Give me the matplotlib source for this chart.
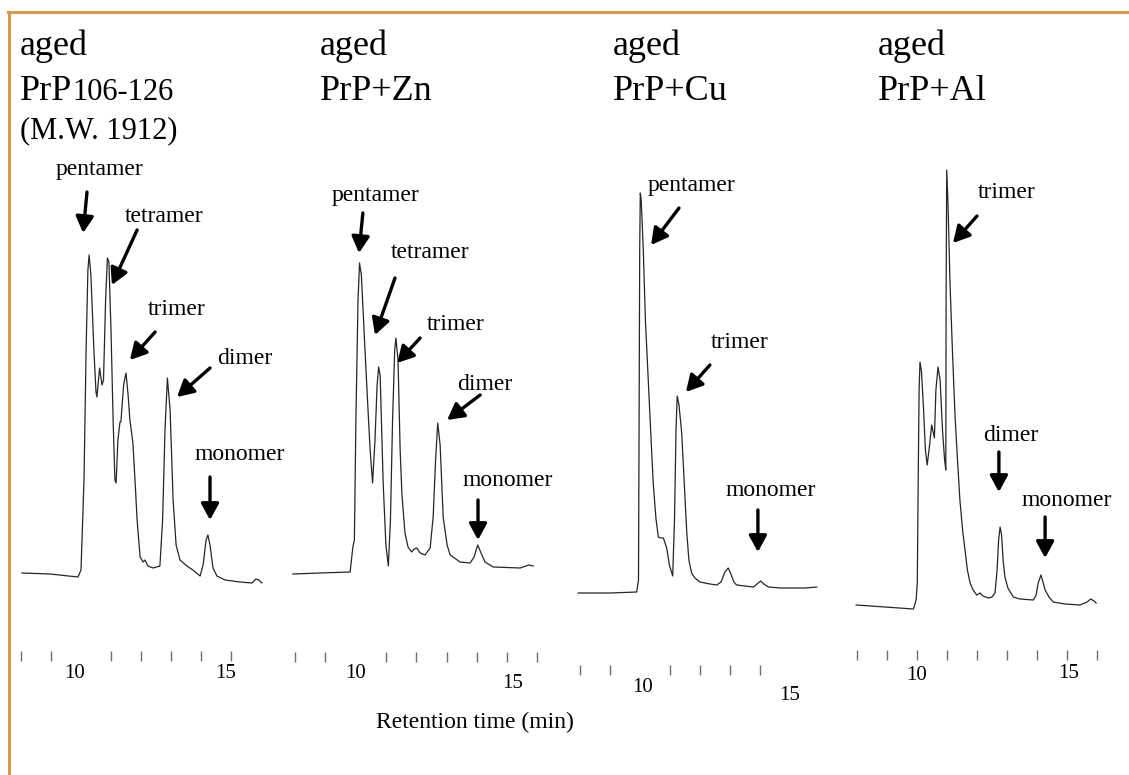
import matplotlib
matplotlib.use("Agg")
import matplotlib.pyplot as plt
from matplotlib.lines import Line2D
from matplotlib import transforms

plt.rcParams['font.family'] = ['Liberation Serif', 'DejaVu Serif']

W, H = 1129, 775

# --- traces: retention time (min) vs absorbance (a.u.) ---
PRP_T = [8.03, 8.97, 9.90, 10.00, 10.10, 10.17, 10.23, 10.27, 10.33, 10.43, 10.50, 10.53,
         10.62, 10.70, 10.75, 10.82, 10.88, 10.93, 11.00, 11.07, 11.13, 11.17, 11.23, 11.30,
         11.33, 11.42, 11.50, 11.57, 11.63, 11.73, 11.80, 11.87, 11.97, 12.07, 12.13, 12.23,
         12.40, 12.63, 12.72, 12.80, 12.88, 12.97, 13.07, 13.17, 13.30, 13.53, 13.73, 13.97,
         14.07, 14.17, 14.23, 14.30, 14.40, 14.53, 14.80, 15.30, 15.70, 15.83, 15.93, 16.03]
PRP_S = [0.02, 0.01, -0.02, 0.05, 0.95, 2.25, 3.05, 3.20, 3.00, 2.25, 1.83, 1.78,
         2.07, 1.90, 1.95, 2.75, 3.17, 3.13, 2.45, 1.55, 0.95, 0.92, 1.35, 1.53,
         1.53, 1.90, 2.02, 1.80, 1.55, 1.32, 0.95, 0.55, 0.18, 0.13, 0.15, 0.09,
         0.07, 0.09, 0.55, 1.45, 1.97, 1.65, 0.75, 0.30, 0.15, 0.09, 0.05, -0.01,
         0.10, 0.35, 0.40, 0.30, 0.07, -0.01, -0.05, -0.07, -0.08, -0.04, -0.05, -0.08]

ZN_T = [7.93, 8.83, 9.82, 9.91, 9.96, 10.01, 10.08, 10.13, 10.19, 10.31, 10.41, 10.48,
        10.56, 10.64, 10.71, 10.76, 10.81, 10.91, 11.00, 11.08, 11.15, 11.22, 11.29, 11.33,
        11.40, 11.47, 11.53, 11.63, 11.73, 11.85, 11.93, 12.02, 12.13, 12.29, 12.46, 12.56,
        12.64, 12.71, 12.79, 12.89, 13.02, 13.12, 13.45, 13.78, 13.91, 14.03, 14.14, 14.27,
        14.54, 15.43, 15.62, 15.72, 15.86]
ZN_S = [-0.02, -0.01, 0.00, 0.25, 0.32, 1.52, 2.72, 3.09, 2.97, 2.22, 1.62, 1.22,
        0.89, 1.32, 1.87, 2.05, 1.97, 0.89, 0.27, 0.06, 0.52, 1.52, 2.22, 2.34,
        2.12, 1.22, 0.77, 0.39, 0.25, 0.20, 0.23, 0.24, 0.19, 0.17, 0.24, 0.55,
        1.12, 1.49, 1.27, 0.55, 0.27, 0.17, 0.10, 0.09, 0.15, 0.27, 0.19, 0.10,
        0.05, 0.04, 0.06, 0.07, 0.06]

CU_T = [7.94, 9.00, 9.89, 9.95, 9.97, 9.99, 10.01, 10.04, 10.11, 10.18, 10.28, 10.37,
        10.44, 10.53, 10.61, 10.70, 10.78, 10.89, 10.98, 11.09, 11.15, 11.20, 11.24, 11.30,
        11.39, 11.47, 11.56, 11.63, 11.72, 11.83, 12.00, 12.33, 12.56, 12.70, 12.83, 12.94,
        13.03, 13.13, 13.22, 13.50, 13.78, 13.90, 14.02, 14.13, 14.28, 14.67, 15.11, 15.50,
        15.89]
CU_S = [-0.01, -0.01, 0.00, 0.12, 1.72, 3.42, 3.99, 3.92, 3.42, 2.72, 2.09, 1.52,
        1.09, 0.74, 0.55, 0.54, 0.54, 0.44, 0.27, 0.16, 0.72, 1.62, 1.96, 1.87,
        1.59, 1.12, 0.59, 0.32, 0.19, 0.14, 0.10, 0.08, 0.07, 0.10, 0.20, 0.24,
        0.18, 0.10, 0.07, 0.06, 0.05, 0.08, 0.11, 0.08, 0.05, 0.04, 0.04, 0.04,
        0.05]

AL_T = [7.97, 8.93, 9.88, 9.97, 10.01, 10.04, 10.07, 10.10, 10.15, 10.22, 10.28, 10.34,
        10.42, 10.49, 10.58, 10.63, 10.70, 10.77, 10.85, 10.92, 10.96, 10.97, 10.99, 11.03,
        11.10, 11.18, 11.27, 11.35, 11.43, 11.52, 11.60, 11.68, 11.77, 11.87, 11.99, 12.10,
        12.20, 12.38, 12.50, 12.60, 12.67, 12.72, 12.77, 12.82, 12.87, 12.93, 13.03, 13.21,
        13.43, 13.88, 13.97, 14.04, 14.13, 14.20, 14.27, 14.40, 14.54, 14.93, 15.43, 15.67,
        15.79, 15.90, 15.97]
AL_S = [0.01, -0.01, -0.03, 0.06, 0.23, 1.26, 2.16, 2.44, 2.34, 1.96, 1.56, 1.41,
        1.61, 1.81, 1.68, 2.16, 2.39, 2.26, 1.76, 1.46, 1.36, 3.06, 4.36, 4.06,
        3.23, 2.56, 1.89, 1.46, 1.06, 0.76, 0.56, 0.36, 0.23, 0.16, 0.11, 0.13,
        0.10, 0.08, 0.09, 0.13, 0.36, 0.66, 0.79, 0.71, 0.46, 0.29, 0.18, 0.09,
        0.07, 0.06, 0.11, 0.23, 0.31, 0.24, 0.16, 0.09, 0.04, 0.02, 0.01, 0.04,
        0.07, 0.05, 0.03]

TRACES = [(PRP_T, PRP_S), (ZN_T, ZN_S), (CU_T, CU_S), (AL_T, AL_S)]

# tick marks present on each scanned time axis
TICKS = [[8, 9, 11, 12, 13, 14, 15],
         [8, 9, 11, 12, 13, 14, 15, 16],
         [8, 9, 11, 12, 13, 14],
         [8, 9, 10, 11, 12, 13, 14, 15, 16]]
LABELED = [10, 15]
# the pasted-in tick numbers sit a little off their ticks: (dx, dy) in px
LABEL_SHIFT = [[(-6, 17), (-5, 17)],
               [(0, 16), (6, 26)],
               [(3, 18), (0, 25)],
               [(0, 20), (2, 19)]]

# peak annotations: label, text (t, s), arrow tail (t, s), arrow tip (t, s)
PEAKS = [
    [("pentamer", 10.60, 4.05, 10.20, 3.83, 10.07, 3.42),
     ("tetramer", 12.77, 3.59, 11.87, 3.45, 11.03, 2.90),
     ("trimer", 13.20, 2.65, 12.47, 2.43, 11.63, 2.15),
     ("dimer", 15.47, 2.16, 14.30, 2.07, 13.20, 1.78),
     ("monomer", 15.30, 1.20, 14.30, 0.98, 14.30, 0.55)],
    [("pentamer", 10.67, 3.76, 10.24, 3.59, 10.11, 3.19),
     ("tetramer", 12.46, 3.20, 11.30, 2.94, 10.64, 2.37),
     ("trimer", 13.31, 2.48, 12.13, 2.34, 11.37, 2.09),
     ("dimer", 14.27, 1.87, 14.11, 1.77, 13.02, 1.52),
     ("monomer", 15.03, 0.92, 14.04, 0.72, 14.04, 0.32)],
    [("pentamer", 11.73, 4.06, 11.30, 3.84, 10.37, 3.47),
     ("trimer", 13.33, 2.50, 12.33, 2.27, 11.53, 2.00),
     ("monomer", 14.37, 1.02, 13.93, 0.82, 13.93, 0.40)],
    [("trimer", 13.00, 4.14, 12.00, 3.90, 11.20, 3.63),
     ("dimer", 13.13, 1.71, 12.73, 1.54, 12.73, 1.14),
     ("monomer", 15.00, 1.06, 14.27, 0.89, 14.27, 0.48)],
]

TITLES = [("aged", "PrP", "106-126", "(M.W. 1912)"),
          ("aged", "PrP+Zn", None, None),
          ("aged", "PrP+Cu", None, None),
          ("aged", "PrP+Al", None, None)]

# panel placement in pixels: x of 8 min, px per min, tick row y, baseline y
GEOM = [(21, 30.0, 656, 575),
        (295, 30.3, 657, 572),
        (580, 30.0, 670, 592),
        (857, 30.0, 655, 606)]
TITLE_X = [20, 320, 613, 878]
TOP = 130

fig = plt.figure(figsize=(W / 100, H / 100), dpi=100)
fig.patch.set_facecolor("white")

# orange frame of the original slide
frame = "#D49A48"
fig.add_artist(Line2D([8 / W, 1], [1 - 11.5 / H, 1 - 11.5 / H], color=frame, lw=2.2))
fig.add_artist(Line2D([8.5 / W, 8.5 / W], [0, 1 - 11.5 / H], color=frame, lw=2.2))

for i, ((t, s), (x8, ppm, ty, by)) in enumerate(zip(TRACES, GEOM)):
    left = x8 - 0.5 * ppm
    ax = fig.add_axes([left / W, 1 - ty / H, 9 * ppm / W, (ty - TOP) / H])
    ax.patch.set_visible(False)
    ax.set_xlim(7.5, 16.5)
    ax.set_ylim((by - ty) / 100, (by - TOP) / 100)
    for sp in ax.spines.values():
        sp.set_visible(False)
    ax.plot(t, s, color="#262626", lw=0.9, clip_on=False)

    ax.set_xticks([])
    ax.set_xticks(TICKS[i], minor=True)
    ax.tick_params(axis="x", which="minor", direction="inout", length=7,
                   width=1.0, color="#6e6e6e")
    ax.set_yticks([])

    for v, (dx, dy) in zip(LABELED, LABEL_SHIFT[i]):
        tr = transforms.offset_copy(ax.get_xaxis_transform(), fig=fig,
                                    x=dx, y=-dy, units="dots")
        ax.text(v, 0, str(v), transform=tr, ha="center", va="center",
                fontsize=15, clip_on=False)

    for lab, xt, yt, xa, ya, xp, yp in PEAKS[i]:
        ax.annotate("", xy=(xp, yp), xytext=(xa, ya),
                    arrowprops=dict(arrowstyle="-|>,head_length=0.55,head_width=0.3",
                                    lw=2.4, color="black", shrinkA=0, shrinkB=0,
                                    mutation_scale=18))
        ax.text(xt, yt, lab, ha="center", va="center", fontsize=17)

# panel titles
fig.canvas.draw()
renderer = fig.canvas.get_renderer()
for (l1, l2, sub, l3), x in zip(TITLES, TITLE_X):
    fig.text(x / W, 1 - 55 / H, l1, fontsize=26, va="baseline")
    t2 = fig.text(x / W, 1 - 100 / H, l2, fontsize=26, va="baseline")
    if sub:
        bb = t2.get_window_extent(renderer)
        fig.text(bb.x1 / W, 1 - 100 / H, sub, fontsize=22, va="baseline")
    if l3:
        fig.text(x / W, 1 - 138 / H, l3, fontsize=22, va="baseline")

fig.text(475 / W, 1 - 722 / H, "Retention time (min)", ha="center", va="center", fontsize=17)

fig.savefig("out.png", dpi=100)
